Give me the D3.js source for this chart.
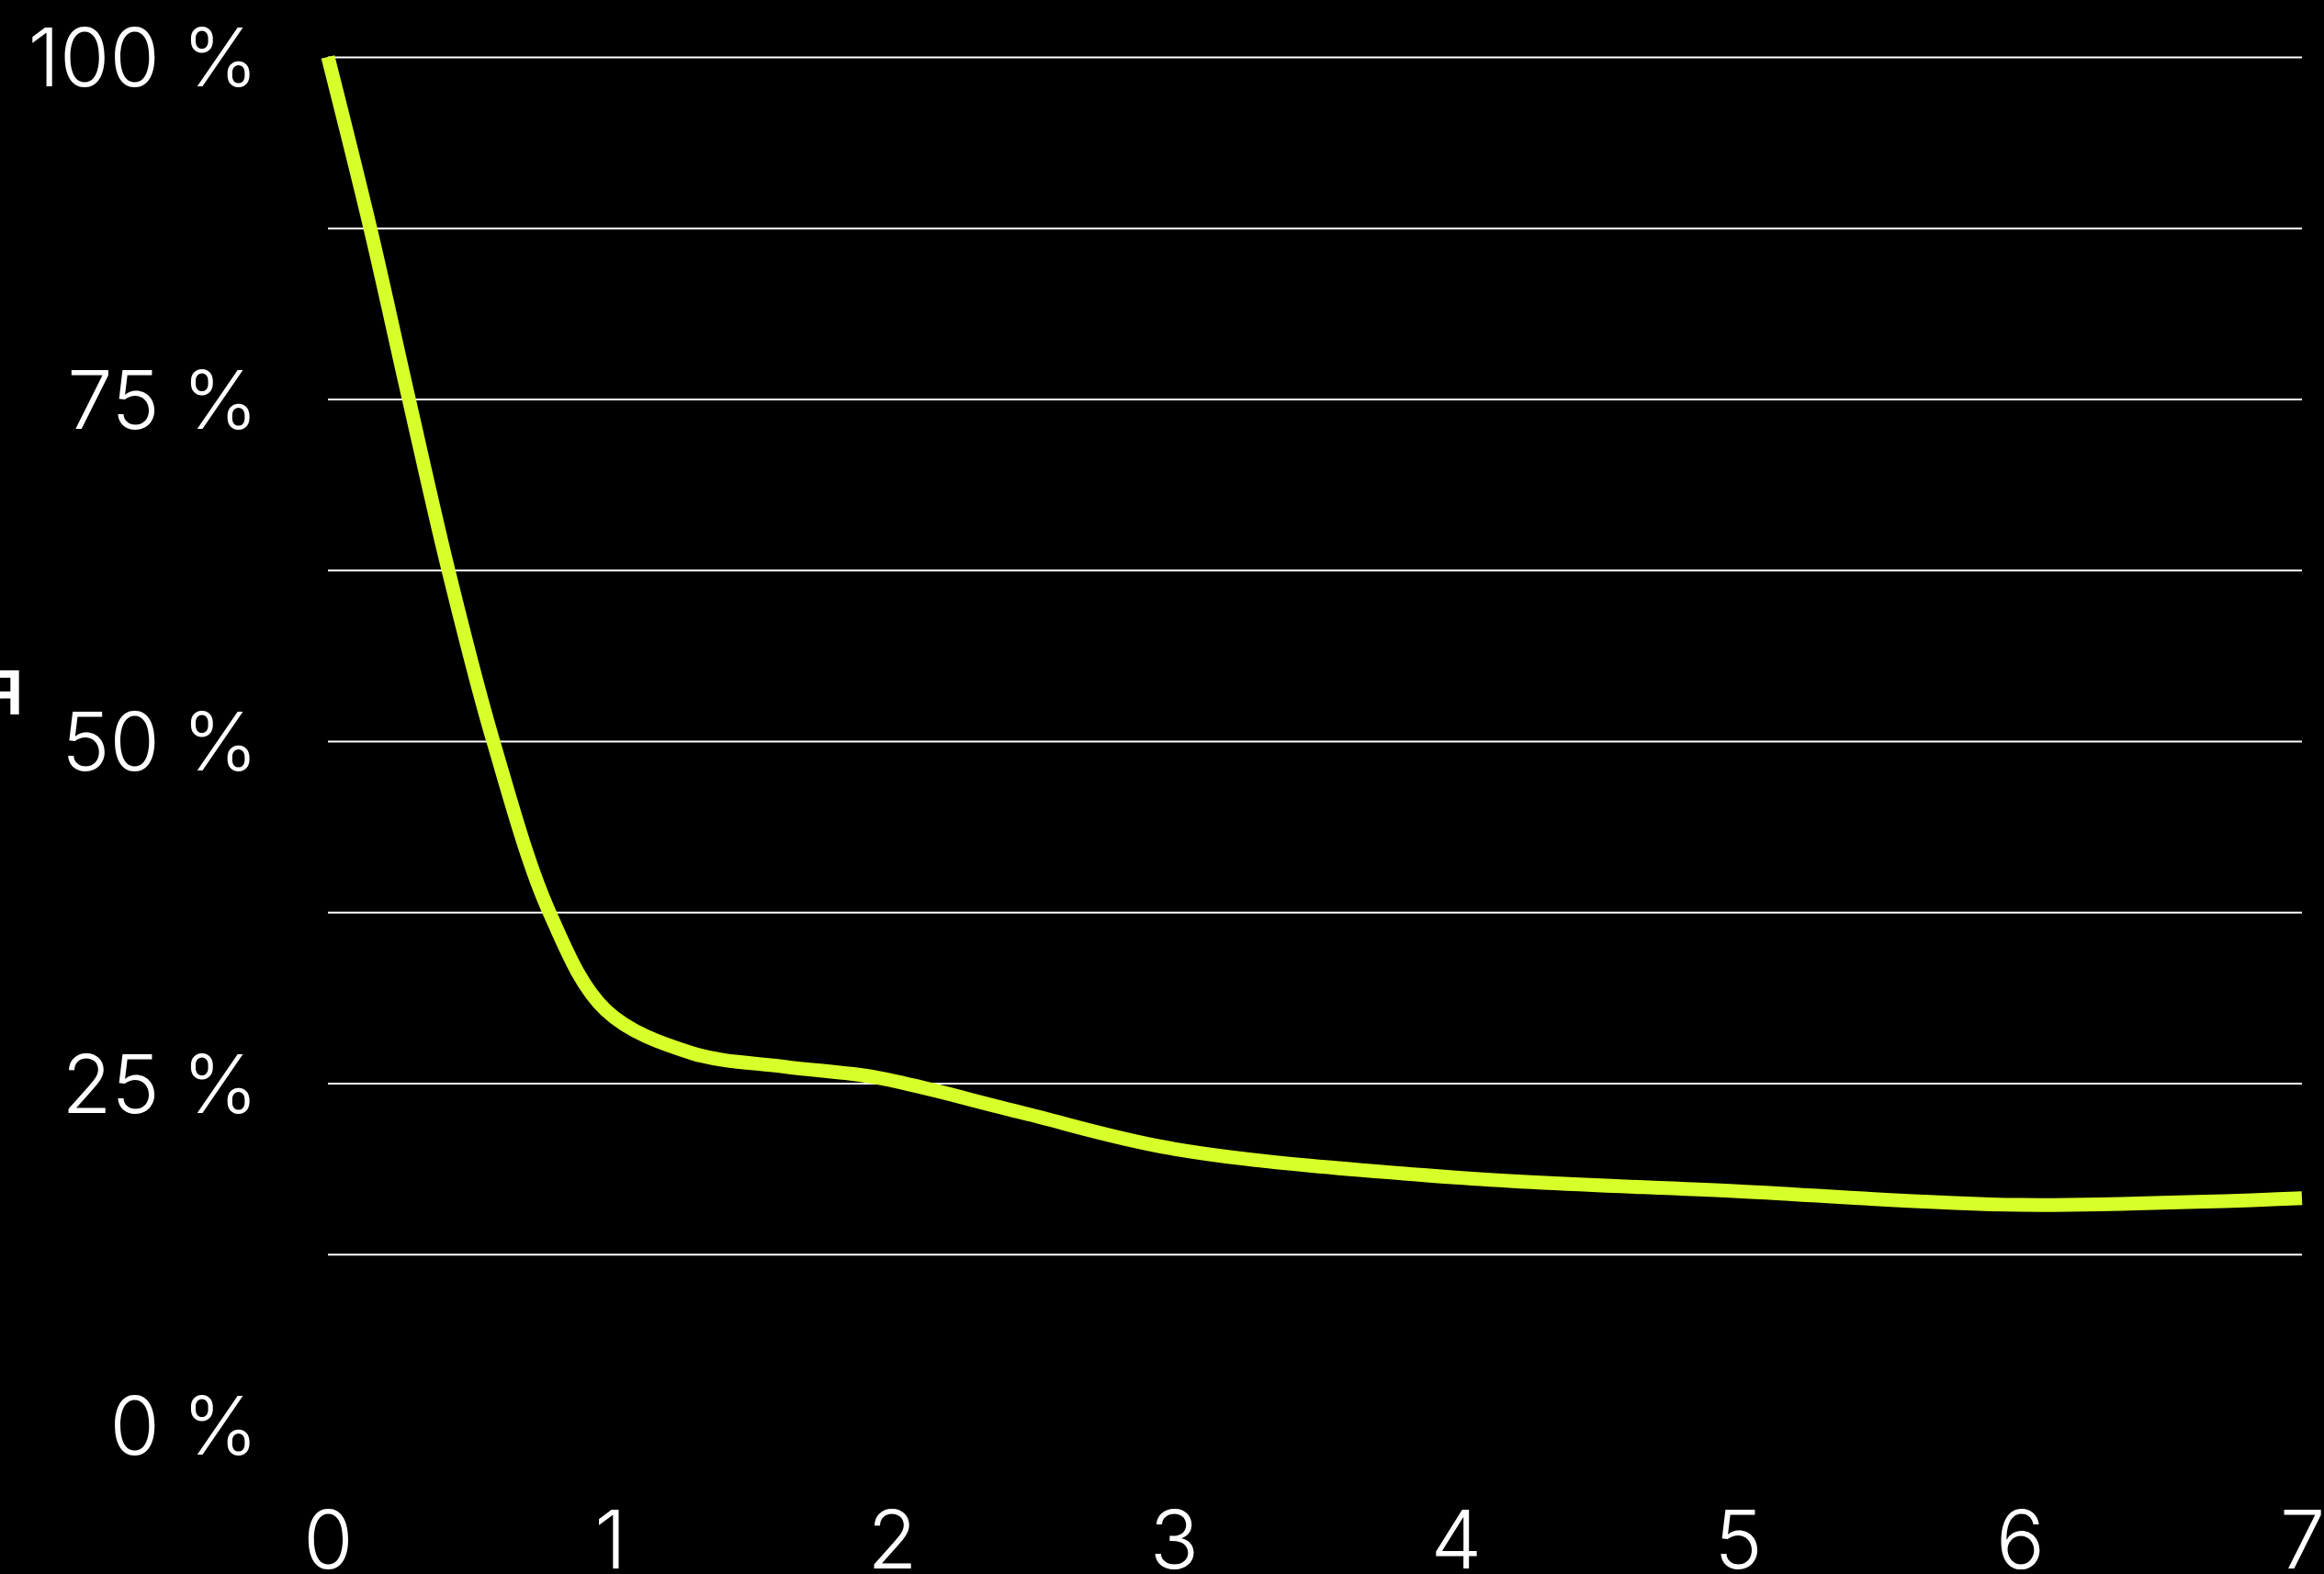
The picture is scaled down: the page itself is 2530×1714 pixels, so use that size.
<!DOCTYPE html>
<html>
<head>
<meta charset="utf-8">
<script src="https://cdn.jsdelivr.net/npm/d3@7"></script>
<style>
  html, body { margin: 0; padding: 0; background: #000; overflow: hidden; }
  svg { display: block; }
  text { font-family: Inter, "Noto Sans", sans-serif; fill: #fff; }
</style>
</head>
<body>
<svg id="chart" width="2530" height="1714"></svg>
<script>
// ---- data ----
const days = [0, 0.15, 0.287, 0.427, 0.586, 0.785, 0.987, 1.29, 1.62, 1.95, 2.45, 3, 4, 5, 6, 7];
const retention = [100, 87.5, 75, 62.5, 50, 37.5, 30.3, 27.2, 26.2, 25.4, 22.9, 20.2, 18.1, 17.1, 16.1, 16.6];
const xTicks = [0, 1, 2, 3, 4, 5, 6, 7];
const yTicks = [0, 25, 50, 75, 100];
const gridValues = [12.5, 25, 37.5, 50, 62.5, 75, 87.5, 100];
const yTitle = "Доля";

(function () {
  // ---- layout ----
  const W = 2530, H = 1714;
  const mLeft = 357, mRight = 2506, mTop = 62, mBottom = 1552;
  const svg = d3.select("#chart");
  svg.append("rect").attr("width", W).attr("height", H).attr("fill", "#000");

  const x = d3.scaleLinear().domain([0, 7]).range([mLeft, mRight]);
  const y = d3.scaleLinear().domain([0, 100]).range([mBottom, mTop]);

  // gridlines
  const grid = svg.append("g")
    .attr("transform", `translate(${mLeft},0)`)
    .call(d3.axisLeft(y).tickValues(gridValues).tickSize(-(mRight - mLeft)).tickFormat(""));
  grid.select(".domain").remove();
  grid.selectAll(".tick line").attr("stroke", "#ffffff").attr("stroke-width", 2);

  // y labels
  const yAxis = svg.append("g")
    .attr("transform", `translate(${mLeft},0)`)
    .call(d3.axisLeft(y).tickValues(yTicks).tickSize(0).tickPadding(76).tickFormat(d => d + " %"));
  yAxis.select(".domain").remove();
  yAxis.selectAll(".tick text")
    .attr("font-family", "Inter, 'Noto Sans', sans-serif")
    .attr("font-size", 88).attr("font-weight", 300)
    .attr("fill", "#fff").attr("dy", "0.36em");

  // x labels
  const xAxis = svg.append("g")
    .call(d3.axisBottom(x).tickValues(xTicks).tickSize(0).tickFormat(d3.format("d")));
  xAxis.select(".domain").remove();
  xAxis.selectAll(".tick text")
    .attr("font-family", "Inter, 'Noto Sans', sans-serif")
    .attr("font-size", 88).attr("font-weight", 300)
    .attr("fill", "#fff").attr("y", 1708).attr("dy", 0);

  // y title (mostly off-canvas)
  svg.append("text")
    .attr("x", 27).attr("y", 778)
    .attr("text-anchor", "end")
    .attr("font-size", 88).attr("font-weight", 500)
    .text(yTitle);

  // line
  const data = days.map((d, i) => ({ d, v: retention[i] }));
  svg.append("path")
    .datum(data)
    .attr("fill", "none")
    .attr("stroke", "#d7ff29")
    .attr("stroke-width", 15)
    .attr("stroke-linecap", "butt")
    .attr("stroke-linejoin", "round")
    .attr("d", d3.line().x(p => x(p.d)).y(p => y(p.v)).curve(d3.curveCatmullRom.alpha(0.5)));
})();
</script>
</body>
</html>
